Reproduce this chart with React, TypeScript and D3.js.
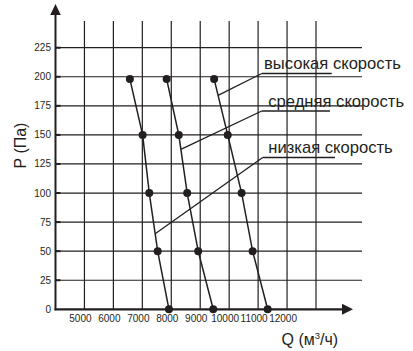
import React from "react";
import * as d3 from "d3";

const pressures = [198, 150, 100, 50, 0];
const lowFlow = [6570, 7010, 7240, 7530, 7920];
const midFlow = [7840, 8260, 8550, 8930, 9450];
const highFlow = [9480, 9950, 10430, 10810, 11330];

const xTickValues = [5000, 6000, 7000, 8000, 9000, 10000, 11000, 12000];
const xGridValues = [5000, 6000, 7000, 8000, 9000, 10000, 11000, 12000, 13000];
const yTickValues = [0, 25, 50, 75, 100, 125, 150, 175, 200, 225];

const seriesNames = ["высокая скорость", "средняя скорость", "низкая скорость"];
const leaderPressures = [184, 137.5, 65];

const xTitle = "Q (м";
const yTitle = "P (Па)";

const W = 413;
const H = 351;
const INK = "#231f20";
const FONT = "'Liberation Sans', Arial, sans-serif";

export default function App() {
  const x = d3.scaleLinear().domain([4000, 13000]).range([55.5, 316]);
  const y = d3.scaleLinear().domain([0, 225]).range([309.3, 47.7]);

  const series = [highFlow, midFlow, lowFlow];
  const line = d3
    .line<[number, number]>()
    .x((d) => x(d[0]))
    .y((d) => y(d[1]));

  const flowAt = (flows: number[], p: number) => {
    for (let i = 0; i < pressures.length - 1; i++) {
      const p0 = pressures[i];
      const p1 = pressures[i + 1];
      if (p <= p0 && p >= p1) {
        const t = (p - p0) / (p1 - p0);
        return flows[i] + t * (flows[i + 1] - flows[i]);
      }
    }
    return flows[0];
  };

  const labelLayout = [
    { tx: 264, uy: 73.5, ux0: 261.7, ux1: 331.7 },
    { tx: 268.3, uy: 111, ux0: 261.7, ux1: 330 },
    { tx: 268.3, uy: 157.5, ux0: 262.7, ux1: 335 },
  ];

  const gridTop = y(248);
  const axisY = y(0);
  const axisX = x(4000);

  return (
    <svg
      width={W}
      height={H}
      style={{ position: "absolute", left: 0, top: 0, background: "#fff" }}
      fontFamily={FONT}
    >
      <rect x={0} y={0} width={W} height={H} fill="#fff" />
      {/* vertical gridlines */}
      {xGridValues.map((v) => (
        <line
          key={"vg" + v}
          x1={x(v)}
          x2={x(v)}
          y1={gridTop}
          y2={axisY}
          stroke={INK}
          strokeWidth={1.2}
        />
      ))}
      {/* horizontal gridlines */}
      {yTickValues
        .filter((v) => v > 0)
        .map((v) => (
          <g key={"hg" + v}>
            <line
              x1={axisX}
              x2={362}
              y1={y(v)}
              y2={y(v)}
              stroke={INK}
              strokeWidth={1.2}
            />
            <line
              x1={axisX}
              x2={axisX + 5}
              y1={y(v)}
              y2={y(v)}
              stroke={INK}
              strokeWidth={2}
            />
          </g>
        ))}
      {/* axes */}
      <line x1={axisX} x2={axisX} y1={14} y2={axisY + 1} stroke={INK} strokeWidth={2} />
      <path
        d={`M${axisX},4 L${axisX - 5.3},15 L${axisX + 5.3},15 Z`}
        fill={INK}
      />
      <line x1={axisX - 1} x2={343} y1={axisY} y2={axisY} stroke={INK} strokeWidth={2.2} />
      <path
        d={`M353,${axisY} L342,${axisY - 5.5} L342,${axisY + 5.5} Z`}
        fill={INK}
      />
      {/* y tick labels */}
      {yTickValues.map((v) => (
        <text
          key={"yt" + v}
          x={51}
          y={y(v)}
          dy="0.35em"
          textAnchor="end"
          fontSize={10}
          fill={INK}
        >
          {v}
        </text>
      ))}
      {/* x tick labels */}
      {xTickValues.map((v) => (
        <text
          key={"xt" + v}
          x={x(v) - 4}
          y={322}
          textAnchor="middle"
          fontSize={10}
          fill={INK}
        >
          {v}
        </text>
      ))}
      {/* curves */}
      {series.map((flows, si) => (
        <g key={"s" + si}>
          <path
            d={line(flows.map((f, i) => [f, pressures[i]] as [number, number])) || ""}
            fill="none"
            stroke={INK}
            strokeWidth={1.5}
          />
          {flows.map((f, i) => (
            <circle key={i} cx={x(f)} cy={y(pressures[i])} r={4} fill={INK} />
          ))}
        </g>
      ))}
      {/* labels with leaders */}
      {seriesNames.map((name, si) => {
        const L = labelLayout[si];
        const p = leaderPressures[si];
        const fx = x(flowAt(series[si], p));
        const fy = y(p);
        return (
          <g key={"lab" + si}>
            <text x={L.tx} y={L.uy - 4.5} fontSize={16.6} fill={INK}>
              {name}
            </text>
            <line x1={L.ux0} x2={L.ux1} y1={L.uy} y2={L.uy} stroke={INK} strokeWidth={1.3} />
            <line x1={L.ux0} y1={L.uy} x2={fx} y2={fy} stroke={INK} strokeWidth={1.3} />
          </g>
        );
      })}
      {/* axis titles */}
      <text x={281.5} y={345} fontSize={16} fill={INK}>
        {xTitle}
        <tspan dy={-6.5} fontSize={9.5}>
          3
        </tspan>
        <tspan dy={6.5}>/ч)</tspan>
      </text>
      <text
        transform={`translate(25.5,145.5) rotate(-90)`}
        textAnchor="middle"
        fontSize={16}
        fill={INK}
      >
        {yTitle}
      </text>
    </svg>
  );
}
